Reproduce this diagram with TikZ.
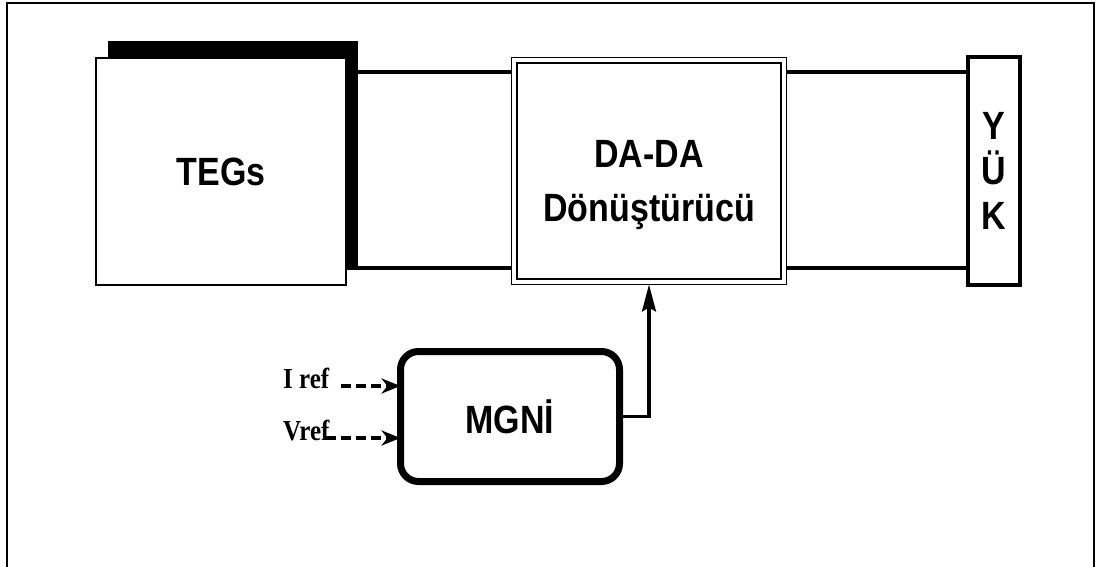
\documentclass[tikz,border=0pt]{standalone}
\usepackage{fontspec}
\setmainfont{Liberation Sans}
\newfontfamily\refserif{Liberation Serif}
\usetikzlibrary{arrows.meta,positioning,shadows}
\newcommand{\tallbox}[1]{\scalebox{1}[1.16]{#1}}
\tikzset{
  block/.style={draw,fill=white,inner sep=0pt,outer sep=0pt},
  title/.style={font=\fontsize{34}{54}\selectfont\bfseries},
  rail/.style={line width=3.5pt},
  refin/.style={line width=4.5pt,dash pattern=on 10pt off 5pt,-{Stealth[length=19pt,width=15pt,inset=6pt]}},
  feed/.style={line width=3.3pt,-{Stealth[length=27pt,width=14pt,inset=4pt]}},
  reflabel/.style={font=\refserif\fontsize{25}{25}\selectfont\bfseries,inner sep=0pt,anchor=mid west},
}
\begin{document}
\begin{tikzpicture}[x=1pt,y=-1pt]
  \useasboundingbox (0,0) rectangle (1096,567);
  \draw[line width=2pt] (7,567) |- (1094,3) -- (1094,567);
  \node[block,title,line width=2pt,minimum width=250pt,minimum height=227pt,
    general shadow={fill=black,shadow xshift=12pt,shadow yshift=17pt}] (teg) at (221,171.5) {\tallbox{TEGs}};
  \node[block,line width=1.3pt,minimum width=275pt,minimum height=227pt] (conv) at (649,171) {};
  \draw[line width=2.5pt] ([shift={(5.5,5.5)}]conv.north west) rectangle ([shift={(-5.5,-5.5)}]conv.south east);
  \node[title,align=center] (convtxt) at ([shift={(0,14)}]conv.center) {\tallbox{DA-DA}\\\tallbox{Dönüştürücü}};
  \node[block,title,line width=3.5pt,minimum width=52pt,minimum height=228pt,align=center,
    font=\fontsize{34}{45}\selectfont\bfseries] (load) at (994,171) {\tallbox{Y}\\\tallbox{Ü}\\\tallbox{K}};
  \coordinate (hi) at (0,72);
  \coordinate (lo) at (0,268);
  \draw[rail] (teg.east |- hi) -- (conv.west |- hi);
  \draw[rail] (teg.east |- lo) -- (conv.west |- lo);
  \draw[rail] (conv.east |- hi) -- (load.west |- hi);
  \draw[rail] (conv.east |- lo) -- (load.west |- lo);
  \node[block,title,line width=7pt,rounded corners=18pt,minimum width=219pt,minimum height=130pt] (ctrl) at (510,416.5) {\tallbox{MGNİ}};
  \draw[feed] (ctrl.east) -| (conv.south);
  \node[reflabel] (iref) at (283,386) {\tallbox{I ref}};
  \node[reflabel] (vref) at (283,438) {\tallbox{Vref}};
  \draw[refin,shorten <=12pt] (iref.mid east) -- (iref.mid east -| ctrl.west);
  \draw[refin,shorten <=-4pt] (vref.mid east) -- (vref.mid east -| ctrl.west);
\end{tikzpicture}
\end{document}
